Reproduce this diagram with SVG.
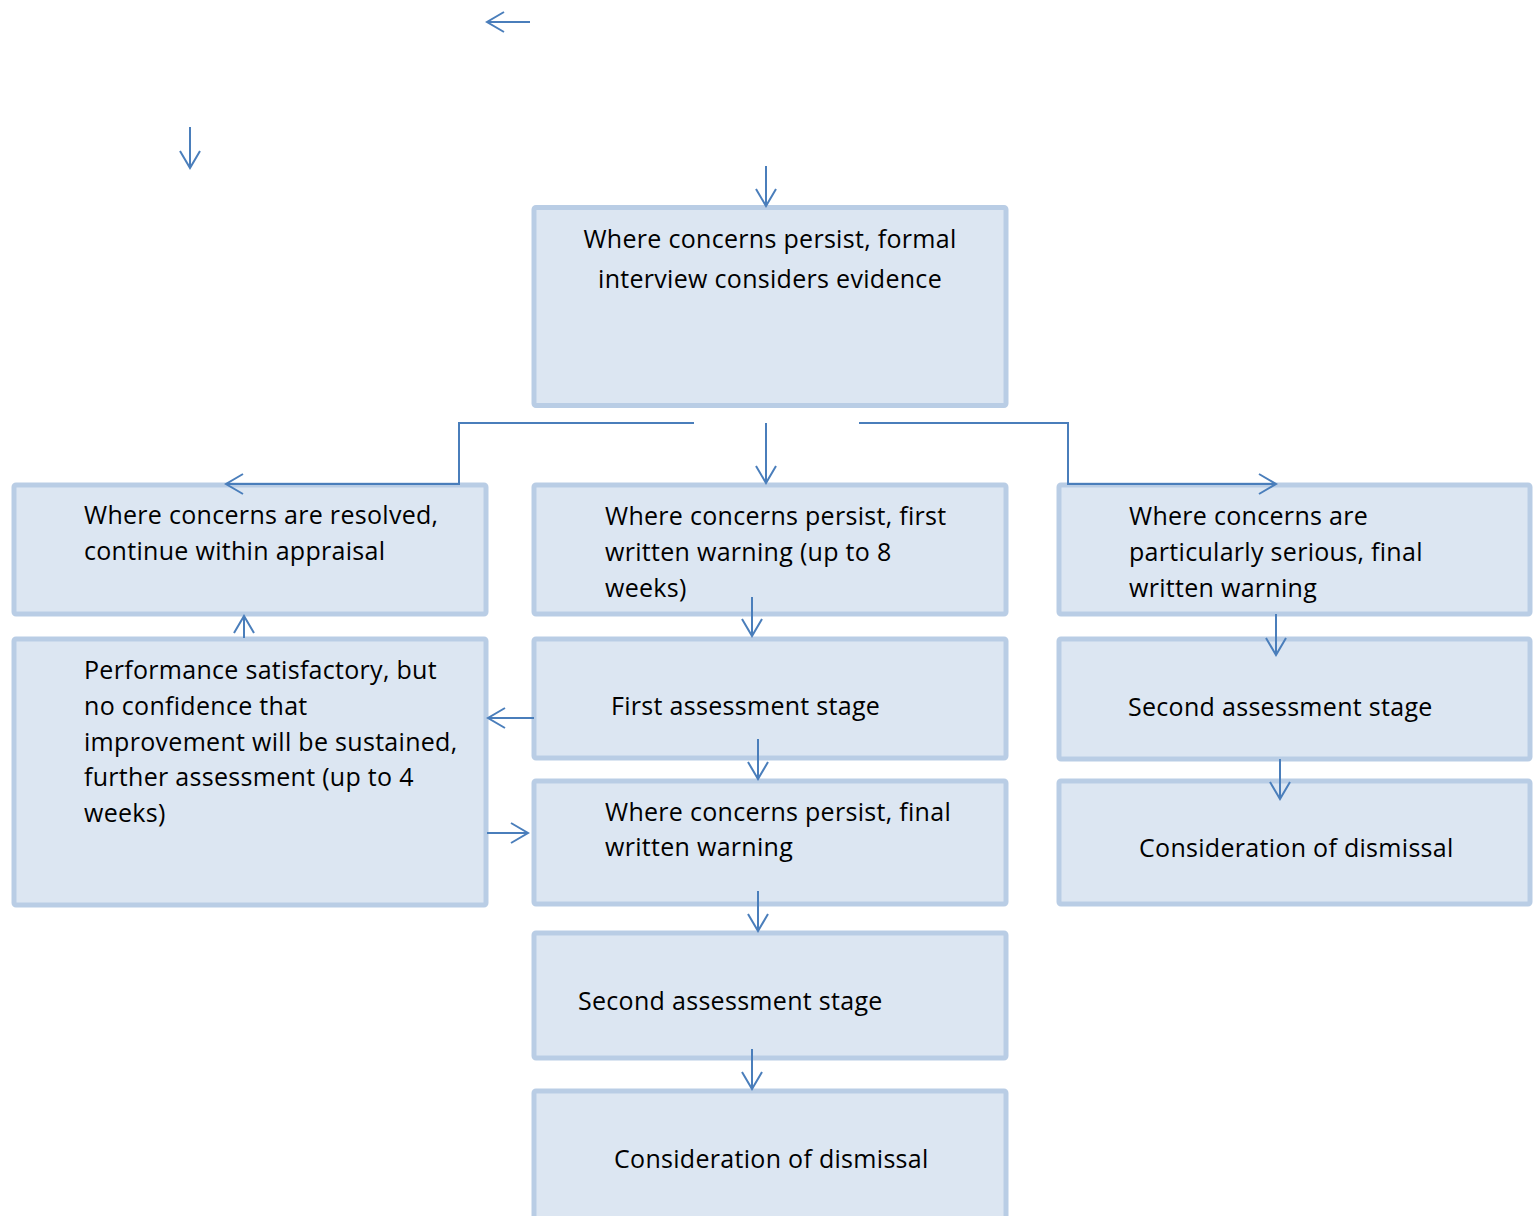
<svg xmlns="http://www.w3.org/2000/svg" width="1536" height="1216" viewBox="0 0 1536 1216">
<style>
.box{fill:#dce6f2;stroke:#b9cde5;stroke-width:5}
.t{font-family:"Open Sans","Liberation Sans",sans-serif;font-size:25px;letter-spacing:0.3px;fill:#000}
.c{fill:none;stroke:#4a7ebb;stroke-width:2;marker-end:url(#ah)}
</style>
<defs>
<marker id="ah" markerUnits="userSpaceOnUse" markerWidth="40" markerHeight="40" viewBox="-20 -20 40 40" refX="0" refY="0" orient="auto">
<path d="M-17,-10 L0,0 L-17,10" fill="none" stroke="#4a7ebb" stroke-width="2"/>
</marker>
</defs>
<rect width="1536" height="1216" fill="#fff"/>
<g id="n1"><rect class="box" x="534" y="207.5" width="472" height="198" rx="2"/>
<text class="t" x="770" y="248" text-anchor="middle">Where concerns persist, formal</text>
<text class="t" x="770" y="288" text-anchor="middle">interview considers evidence</text></g>
<g id="n2"><rect class="box" x="14" y="485" width="472" height="129" rx="2"/>
<text class="t" x="84" y="524">Where concerns are resolved,</text>
<text class="t" x="84" y="560">continue within appraisal</text></g>
<g id="n3"><rect class="box" x="534" y="485" width="472" height="129" rx="2"/>
<text class="t" x="605" y="525">Where concerns persist, first</text>
<text class="t" x="605" y="561">written warning (up to 8</text>
<text class="t" x="605" y="597">weeks)</text></g>
<g id="n4"><rect class="box" x="1059" y="485" width="471" height="129" rx="2"/>
<text class="t" x="1129" y="525">Where concerns are</text>
<text class="t" x="1129" y="561">particularly serious, final</text>
<text class="t" x="1129" y="597">written warning</text></g>
<g id="n5"><rect class="box" x="14" y="639" width="472" height="266" rx="2"/>
<text class="t" x="84" y="679">Performance satisfactory, but</text>
<text class="t" x="84" y="715">no confidence that</text>
<text class="t" x="84" y="751">improvement will be sustained,</text>
<text class="t" x="84" y="786">further assessment (up to 4</text>
<text class="t" x="84" y="822">weeks)</text></g>
<g id="n6"><rect class="box" x="534" y="639" width="472" height="119" rx="2"/>
<text class="t" x="611" y="715">First assessment stage</text></g>
<g id="n7"><rect class="box" x="1059" y="639" width="471" height="120" rx="2"/>
<text class="t" x="1128" y="716">Second assessment stage</text></g>
<g id="n8"><rect class="box" x="534" y="781" width="472" height="123" rx="2"/>
<text class="t" x="605" y="821">Where concerns persist, final</text>
<text class="t" x="605" y="856">written warning</text></g>
<g id="n9"><rect class="box" x="1059" y="781" width="471" height="123" rx="2"/>
<text class="t" x="1139" y="857">Consideration of dismissal</text></g>
<g id="n10"><rect class="box" x="534" y="933" width="472" height="125" rx="2"/>
<text class="t" x="578" y="1010">Second assessment stage</text></g>
<g id="n11"><rect class="box" x="534" y="1091" width="472" height="140" rx="2"/>
<text class="t" x="614" y="1168">Consideration of dismissal</text></g>
<g id="connectors">
<line class="c" x1="530" y1="22" x2="487" y2="22"/>
<line class="c" x1="190" y1="127" x2="190" y2="168"/>
<line class="c" x1="766" y1="166" x2="766" y2="206"/>
<polyline class="c" points="694,423 459,423 459,484 226,484"/>
<line class="c" x1="766" y1="423" x2="766" y2="483"/>
<polyline class="c" points="859,423 1068,423 1068,484 1276,484"/>
<line class="c" x1="752" y1="597" x2="752" y2="636"/>
<line class="c" x1="1276" y1="614" x2="1276" y2="655"/>
<line class="c" x1="244" y1="638" x2="244" y2="616"/>
<line class="c" x1="534" y1="718" x2="488" y2="718"/>
<line class="c" x1="758" y1="739" x2="758" y2="779"/>
<line class="c" x1="487" y1="833" x2="528" y2="833"/>
<line class="c" x1="1280" y1="759" x2="1280" y2="799"/>
<line class="c" x1="758" y1="891" x2="758" y2="931"/>
<line class="c" x1="752" y1="1049" x2="752" y2="1089"/>
</g>
</svg>
